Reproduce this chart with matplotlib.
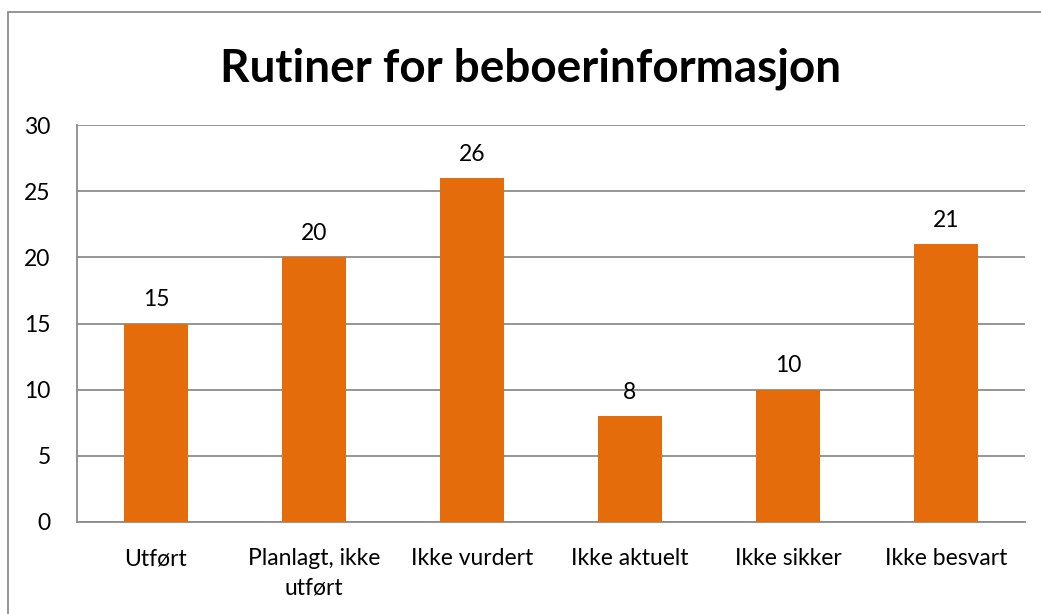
import matplotlib.pyplot as plt
from matplotlib.patches import Rectangle

categories = ["Utført", "Planlagt, ikke\nutført", "Ikke vurdert", "Ikke aktuelt", "Ikke sikker", "Ikke besvart"]
values = [15, 20, 26, 8, 10, 21]
yticks = [0, 5, 10, 15, 20, 25, 30]

plt.rcParams['font.family'] = ['Lato', 'DejaVu Sans']

W, H = 1041, 614
fig = plt.figure(figsize=(W / 100, H / 100), dpi=100)
ax = fig.add_axes([77 / W, 1 - 522 / H, (1025 - 77) / W, (522 - 125) / H])

# outer chart border
fig.patches.append(Rectangle((8 / W, -0.05), (1045 - 8) / W, 1.05 - 12 / H,
                             transform=fig.transFigure, fill=False,
                             edgecolor="#8c8c8c", linewidth=1.3))

x = range(len(categories))
ax.bar(x, values, width=0.41, color="#E46C0A", zorder=3)
for xi, v in zip(x, values):
    ax.text(xi, v + 1.0, str(v), ha="center", va="bottom", fontsize=16.5)

ax.set_xlim(-0.5, len(categories) - 0.5)
ax.set_ylim(0, 30)
ax.set_yticks(yticks)
ax.set_xticks(list(x))
ax.set_xticklabels(categories, fontsize=16.5, linespacing=1.45)
ax.tick_params(axis="y", labelsize=16.5, length=0, pad=19)
ax.tick_params(axis="x", length=0, pad=19)
ax.grid(axis="y", color="#8c8c8c", linewidth=1.3, zorder=0)

for s in ["top", "right"]:
    ax.spines[s].set_visible(False)
for s in ["left", "bottom"]:
    ax.spines[s].set_color("#8c8c8c")
    ax.spines[s].set_linewidth(1.3)

fig.text(531 / W, 1 - 69 / H, "Rutiner for beboerinformasjon", ha="center", va="center",
         fontsize=33, fontweight="bold")

fig.savefig("out.png", dpi=100)
